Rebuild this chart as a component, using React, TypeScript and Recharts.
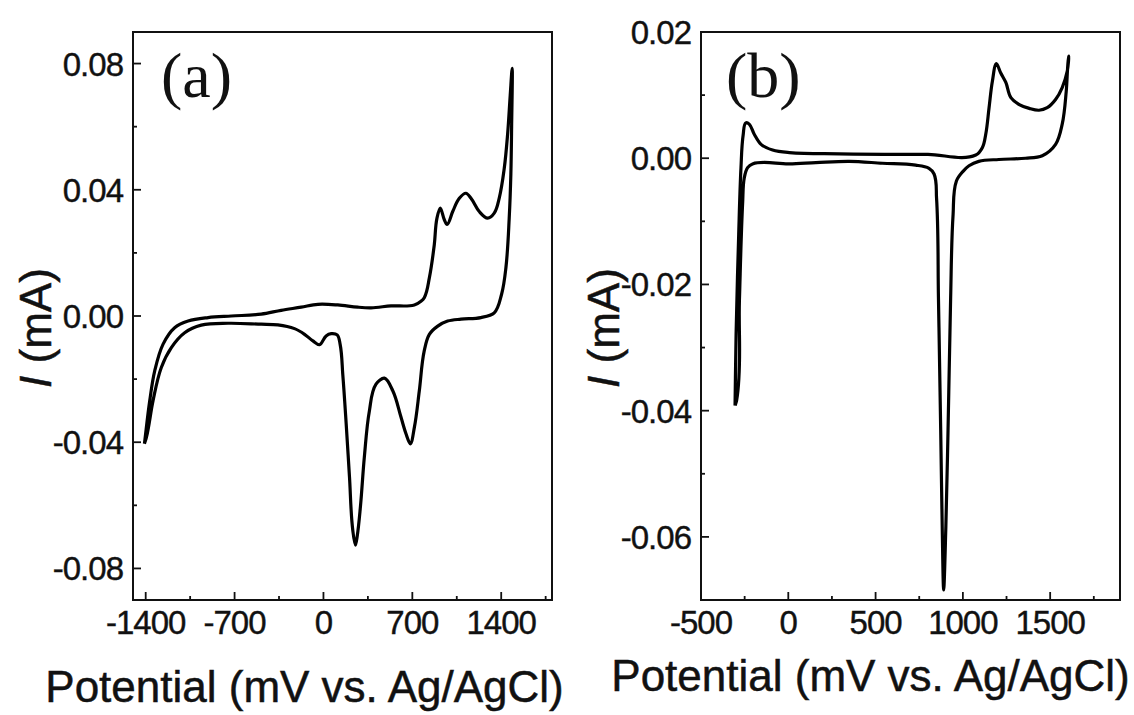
import React from 'react';
import { LineChart, Line, XAxis, YAxis, ReferenceArea } from 'recharts';

// (a) cyclic voltammogram: potential in mV, current in mA
const potentialA = [
  -1410, -1368, -1329, -1263, -1172, -1066, -909, -726, -490, -333, -175, -44, 113, 271, 375, 532, 716, 768, 794,
  834, 873, 894, 920, 952, 973, 1018, 1070, 1122, 1162, 1227, 1293, 1345, 1384, 1424, 1450, 1471, 1486,
  1482, 1476, 1463, 1437, 1403, 1345, 1240, 1083, 978, 900, 834, 794, 755, 716, 684, 650, 611, 546, 480, 414,
  362, 322, 291, 265, 252, 231, 205, 179, 152, 131, 108, 61, 21, -31, -83, -149, -228, -359, -490, -752, -962,
  -1093, -1198, -1277, -1342, -1394, -1410,
];
const currentA = [
  -0.0405, -0.0268, -0.0174, -0.0089, -0.0037, -0.0016, -0.0005, 0.0, 0.0006, 0.0018, 0.0028, 0.0037, 0.0035,
  0.0028, 0.0026, 0.0032, 0.0035, 0.0047, 0.0058, 0.0121, 0.0226, 0.031, 0.0342, 0.0305, 0.029, 0.0331, 0.0373,
  0.0389, 0.0373, 0.0331, 0.031, 0.0326, 0.0373, 0.0468, 0.0574, 0.07, 0.0785,
  0.06, 0.045, 0.031, 0.0153, 0.0069, 0.001, -0.0005, -0.001, -0.0016, -0.0032, -0.0058, -0.011, -0.0237,
  -0.0353, -0.0405, -0.0373, -0.0321, -0.0237, -0.0197, -0.0216, -0.03, -0.0447, -0.0605, -0.07, -0.0726,
  -0.0679, -0.051, -0.0342, -0.0184, -0.0089, -0.006, -0.0056, -0.0063, -0.0091, -0.0079, -0.0058, -0.004,
  -0.0028, -0.0026, -0.0023, -0.0029, -0.0053, -0.01, -0.0163, -0.0268, -0.0384, -0.0405,
];

// (b) cyclic voltammogram
const potentialB = [
  -305, -299, -284, -271, -258, -243, -224, -195, -156, -90, 6, 292, 550, 800, 1074, 1112, 1131, 1150, 1169,
  1192, 1217, 1246, 1275, 1323, 1380, 1436, 1483, 1531, 1569, 1598, 1607,
  1603, 1592, 1569, 1531, 1455, 1359, 1206, 1091, 1035, 997, 963, 944, 930, 915, 902, 890, 882, 873, 860, 849,
  835, 806, 730, 539, 349, 158, 6, -205, -233, -252, -261, -280, -296, -305,
];
const currentB = [
  -0.0392, -0.0278, -0.012, -0.0015, 0.0038, 0.0056, 0.0054, 0.0038, 0.0022, 0.0013, 0.0009, 0.0007, 0.0006,
  0.0006, 0.0005, 0.0017, 0.0038, 0.008, 0.0122, 0.015, 0.0135, 0.012, 0.0096, 0.0085, 0.0079, 0.0076, 0.008,
  0.0093, 0.0112, 0.0138, 0.0162,
  0.0154, 0.0106, 0.0054, 0.0022, 0.0004, 0.0, -0.0002, -0.0005, -0.0012, -0.0022, -0.0036, -0.0089, -0.022,
  -0.0431, -0.0589, -0.0684, -0.0589, -0.0431, -0.022, -0.0062, -0.0025, -0.0016, -0.0011, -0.0008, -0.0005,
  -0.0007, -0.0009, -0.0009, -0.0015, -0.0031, -0.0068, -0.0226, -0.0384, -0.0392,
];

const xMajorA = [-1400, -700, 0, 700, 1400];
const xMinorA = [-1050, -350, 350, 1050, 1750];
const yMajorA = [-0.08, -0.04, 0, 0.04, 0.08];
const yMinorA = [-0.06, -0.02, 0.02, 0.06];

const xMajorB = [-500, 0, 500, 1000, 1500];
const xMinorB = [-250, 250, 750, 1250, 1750];
const yMajorB = [-0.06, -0.04, -0.02, 0, 0.02];
const yMinorB = [-0.07, -0.05, -0.03, -0.01, 0.01];

const SANS = '"Liberation Sans", Arial, sans-serif';
const SERIF = '"Liberation Serif", "Times New Roman", serif';
const INK = '#111';

// smooth path through the points; tangents shrink at sharp turns so the loop vertices don't overshoot
const smoothCurve = (context: any) => {
  let pts: number[][] = [];
  const tangent = (i: number) => {
    const p = pts[i];
    const a = pts[i - 1];
    const b = pts[i + 1];
    let ux = 0;
    let uy = 0;
    let n = 0;
    if (a) {
      const l = Math.hypot(p[0] - a[0], p[1] - a[1]) || 1;
      ux += (p[0] - a[0]) / l;
      uy += (p[1] - a[1]) / l;
      n++;
    }
    if (b) {
      const l = Math.hypot(b[0] - p[0], b[1] - p[1]) || 1;
      ux += (b[0] - p[0]) / l;
      uy += (b[1] - p[1]) / l;
      n++;
    }
    return n ? [ux / n, uy / n] : [0, 0];
  };
  return {
    areaStart() {},
    areaEnd() {},
    lineStart() {
      pts = [];
    },
    point(x: number, y: number) {
      pts.push([+x, +y]);
    },
    lineEnd() {
      if (!pts.length) return;
      context.moveTo(pts[0][0], pts[0][1]);
      for (let i = 0; i < pts.length - 1; i++) {
        const p1 = pts[i];
        const p2 = pts[i + 1];
        const k = Math.hypot(p2[0] - p1[0], p2[1] - p1[1]) / 3;
        const t1 = tangent(i);
        const t2 = tangent(i + 1);
        context.bezierCurveTo(p1[0] + t1[0] * k, p1[1] + t1[1] * k, p2[0] - t2[0] * k, p2[1] - t2[1] * k, p2[0], p2[1]);
      }
    },
  };
};

const XTick = (props: any) => {
  const { x, y, payload, majors } = props;
  const major = majors.includes(payload.value);
  return (
    <g>
      <line x1={x} y1={y} x2={x} y2={y - (major ? 8 : 4)} stroke={INK} strokeWidth={1.8} />
      {major && (
        <text x={x} y={y + 34} textAnchor="middle" fontSize={33} letterSpacing={-1} fill={INK} stroke={INK} strokeWidth={0.4} fontFamily={SANS}>
          {payload.value}
        </text>
      )}
    </g>
  );
};

const YTick = (props: any) => {
  const { x, y, payload, majors } = props;
  const major = majors.includes(payload.value);
  return (
    <g>
      <line x1={x} y1={y} x2={x + (major ? 8 : 4)} y2={y} stroke={INK} strokeWidth={1.8} />
      {major && (
        <text x={x - 10} y={y + 12} textAnchor="end" fontSize={33} letterSpacing={-1} fill={INK} stroke={INK} strokeWidth={0.4} fontFamily={SANS}>
          {payload.value.toFixed(2)}
        </text>
      )}
    </g>
  );
};

type PanelProps = {
  left: number;
  width: number;
  potential: number[];
  current: number[];
  xDomain: [number, number];
  yDomain: [number, number];
  xMajor: number[];
  xMinor: number[];
  yMajor: number[];
  yMinor: number[];
  letter: string;
  letterX: number;
  xLabelDx: number;
  xLabelDy: number;
};

const Panel: React.FC<PanelProps> = (p) => {
  const data = p.potential.map((E, i) => ({ E, I: p.current[i] }));
  const xTicks = [...p.xMajor, ...p.xMinor].sort((a, b) => a - b);
  const yTicks = [...p.yMajor, ...p.yMinor].sort((a, b) => a - b);
  const plotRight = 552;

  return (
    <div style={{ position: 'absolute', left: p.left, top: 0 }}>
      <LineChart
        width={p.width}
        height={715}
        data={data}
        margin={{ top: 32, right: p.width - plotRight, bottom: 85, left: 73 }}
      >
        <XAxis
          dataKey="E"
          type="number"
          domain={p.xDomain}
          allowDataOverflow
          ticks={xTicks}
          interval={0}
          height={30}
          tickSize={0}
          tickMargin={0}
          tickLine={false}
          axisLine={false}
          tick={(t: any) => <XTick {...t} majors={p.xMajor} />}
          label={{
            content: (l: any) => {
              const vb = l.viewBox;
              return (
                <text
                  x={vb.x + vb.width / 2 + p.xLabelDx}
                  y={vb.y + p.xLabelDy}
                  textAnchor="middle"
                  fontSize={44}
                  fill={INK}
                  stroke={INK}
                  strokeWidth={0.5}
                  fontFamily={SANS}
                >
                  Potential (mV vs. Ag/AgCl)
                </text>
              );
            },
          }}
        />
        <YAxis
          type="number"
          domain={p.yDomain}
          allowDataOverflow
          ticks={yTicks}
          interval={0}
          width={60}
          tickSize={0}
          tickMargin={0}
          tickLine={false}
          axisLine={false}
          tick={(t: any) => <YTick {...t} majors={p.yMajor} />}
          label={{
            content: (l: any) => {
              const vb = l.viewBox;
              const cx = vb.x + vb.width - 82;
              const cy = vb.y + vb.height / 2 + 12;
              return (
                <text
                  x={cx}
                  y={cy}
                  transform={`rotate(-90, ${cx}, ${cy})`}
                  textAnchor="middle"
                  fontSize={44}
                  fill={INK}
                  stroke={INK}
                  strokeWidth={0.5}
                  fontFamily={SANS}
                >
                  <tspan fontStyle="italic">I</tspan> (mA)
                </text>
              );
            },
          }}
        />
        <ReferenceArea
          x1={p.xDomain[0]}
          x2={p.xDomain[1]}
          y1={p.yDomain[0]}
          y2={p.yDomain[1]}
          fill="none"
          fillOpacity={0}
          stroke={INK}
          strokeWidth={2}
          ifOverflow="visible"
        />
        <Line
          type={smoothCurve as any}
          dataKey="I"
          stroke="#000"
          strokeWidth={3.2}
          strokeLinejoin="round"
          dot={false}
          activeDot={false}
          isAnimationActive={false}
        />
        <text x={p.letterX} y={97} fontSize={64} fill={INK} fontFamily={SERIF}>
          {p.letter}
        </text>
      </LineChart>
    </div>
  );
};

export default function App() {
  return (
    <div style={{ position: 'absolute', left: 0, top: 0, width: 1134, height: 715, background: '#fff' }}>
      <Panel
        left={0}
        width={568}
        potential={potentialA}
        current={currentA}
        xDomain={[-1500, 1800]}
        yDomain={[-0.09, 0.09]}
        xMajor={xMajorA}
        xMinor={xMinorA}
        yMajor={yMajorA}
        yMinor={yMinorA}
        letter="(a)"
        letterX={161}
        xLabelDx={-38}
        xLabelDy={102}
      />
      <Panel
        left={568}
        width={566}
        potential={potentialB}
        current={currentB}
        xDomain={[-500, 1900]}
        yDomain={[-0.07, 0.02]}
        xMajor={xMajorB}
        xMinor={xMinorB}
        yMajor={yMajorB}
        yMinor={yMinorB}
        letter="(b)"
        letterX={158}
        xLabelDx={-40}
        xLabelDy={91}
      />
    </div>
  );
}
